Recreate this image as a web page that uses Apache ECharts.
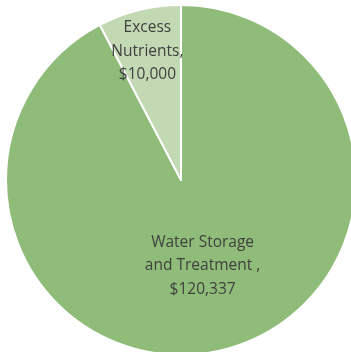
<!DOCTYPE html>
<html><head><meta charset="utf-8">
<script src="https://cdn.jsdelivr.net/npm/echarts@6/dist/echarts.min.js"></script>
<style>html,body{margin:0;padding:0;background:#fff}#c{width:351px;height:352px}</style>
</head><body><div id="c"></div>
<script>
const categories = ['Water Storage\nand Treatment ', 'Excess\nNutrients'];
const values = [120337, 10000];
const colors = ['#8fbc78', '#c3d9b4'];

const chart = echarts.init(document.getElementById('c'));
chart.setOption({
  animation: false,
  series: [{
    type: 'pie',
    center: [181, 180],
    radius: 175,
    startAngle: 90,
    clockwise: true,
    data: categories.map((c, i) => ({ name: c, value: values[i], itemStyle: { color: colors[i] } })),
    itemStyle: { borderColor: '#fff', borderWidth: 2 },
    label: {
      position: 'inside',
      color: '#404040',
      fontFamily: 'Open Sans',
      fontSize: 15.5,
      lineHeight: 23.5,
      formatter: p => p.name + ',\n$' + p.value.toLocaleString('en-US')
    },
    labelLine: { show: false },
    labelLayout: p => p.dataIndex === 1 ? { dx: -12, dy: -41 } : { dx: 0, dy: -2 }
  }]
});
</script></body></html>
